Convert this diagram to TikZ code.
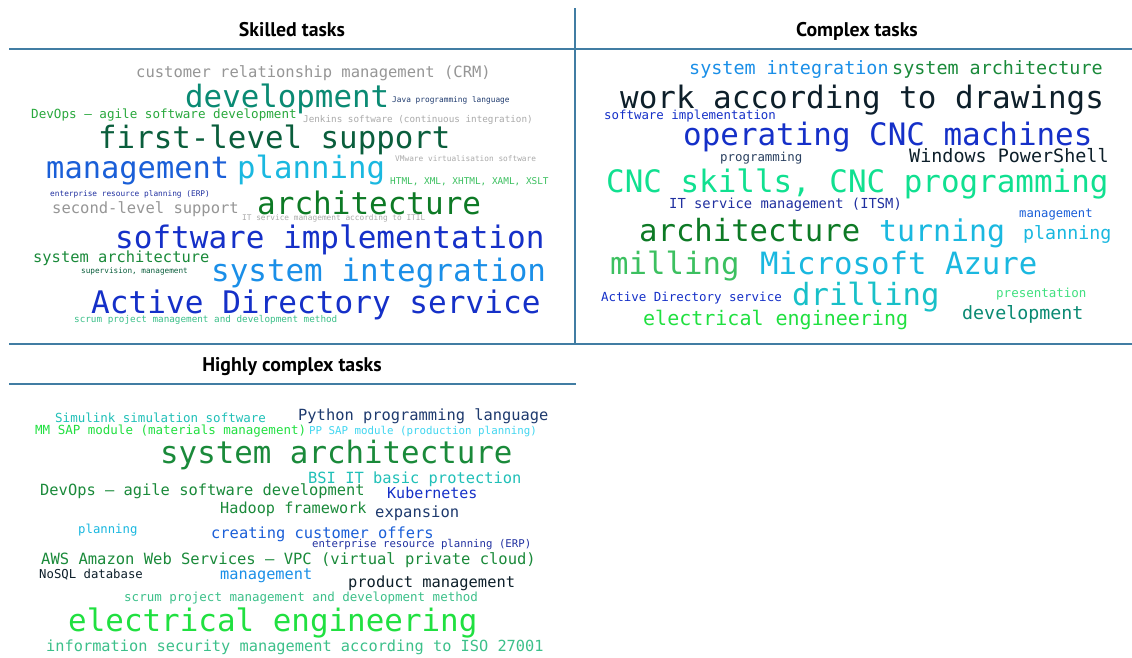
\documentclass[tikz,border=0pt]{standalone}
\usepackage{fontspec}
\newfontfamily\wcmono{DejaVu Sans Mono}
\newfontfamily\wctitle{PT Sans}
\newcommand\wcfont[1]{\wcmono\fontsize{#1}{#1}\selectfont}
\newcommand\wcword[6]{\node[wc, font=\wcfont{#4}, text=#5] (#1) at (#2pt,-#3pt) {#6};}
\definecolor{rule}{RGB}{65,125,163}
\definecolor{cgray}{RGB}{150,150,150}
\definecolor{cgrayl}{RGB}{170,170,170}
\definecolor{cteal}{RGB}{10,138,115}
\definecolor{cnavy}{RGB}{30,58,110}
\definecolor{cgreen}{RGB}{40,168,60}
\definecolor{cdkgreen}{RGB}{10,94,60}
\definecolor{cblue}{RGB}{26,95,216}
\definecolor{ccyan}{RGB}{26,184,224}
\definecolor{clgreen}{RGB}{60,192,96}
\definecolor{cdkblue}{RGB}{32,48,160}
\definecolor{carch}{RGB}{13,122,37}
\definecolor{croyal}{RGB}{21,48,200}
\definecolor{csysarch}{RGB}{26,138,58}
\definecolor{clblue}{RGB}{26,143,232}
\definecolor{cscrum}{RGB}{60,192,138}
\definecolor{cblack}{RGB}{13,31,42}
\definecolor{cmint}{RGB}{16,224,144}
\definecolor{cbgreen}{RGB}{32,224,64}
\definecolor{cslate}{RGB}{42,64,96}
\definecolor{ccyteal}{RGB}{32,192,184}
\definecolor{cpgreen}{RGB}{64,224,128}
\definecolor{cpcyan}{RGB}{64,214,240}
\definecolor{cdrill}{RGB}{24,192,200}
\begin{document}
\begin{tikzpicture}[x=1pt,y=1pt,
  wc/.style={anchor=base west, inner sep=0pt},
  title/.style={anchor=base, inner sep=0pt, font=\wctitle\bfseries\fontsize{19.8}{19.8}\selectfont},
  ruleline/.style={draw=rule, line width=2pt}]
\useasboundingbox[fill=white] (0,0) rectangle (1132,-657);
% rules
\coordinate (v1) at (575,-8);
\coordinate (v2) at (575,-344);
\coordinate (h1a) at (9,-49);
\coordinate (h1b) at (1132,-49);
\coordinate (h2a) at (9,-344);
\coordinate (h2b) at (1132,-344);
\coordinate (h3a) at (9,-384);
\coordinate (h3b) at (576,-384);
\draw[ruleline] (v1) -- (v2);
\draw[ruleline] (h1a) -- (h1b);
\draw[ruleline] (h2a) -- (h2b);
\draw[ruleline] (h3a) -- (h3b);
% titles
\node[title] (t1) at (292,-36) {Skilled tasks};
\node[title] (t2) at (857,-36) {Complex tasks};
\node[title] (t3) at (292,-371) {Highly complex tasks};
% Skilled tasks
\wcword{a1}{136}{77}{15.5}{cgray}{customer relationship management (CRM)}
\wcword{a2}{185}{107}{30.8}{cteal}{development}
\wcword{a3}{392}{102}{7.8}{cnavy}{Java programming language}
\wcword{a4}{31}{118}{12.6}{cgreen}{DevOps – agile software development}
\wcword{a5}{303}{122}{9.3}{cgrayl}{Jenkins software (continuous integration)}
\wcword{a6}{98}{148}{30.8}{cdkgreen}{first-level support}
\wcword{a7}{395}{161}{7.8}{cgrayl}{VMware virtualisation software}
\wcword{a8}{46}{178}{30.4}{cblue}{management}
\wcword{a9}{237}{178}{30.7}{ccyan}{planning}
\wcword{a10}{390}{184}{9.4}{clgreen}{HTML, XML, XHTML, XAML, XSLT}
\wcword{a11}{50}{196}{7.8}{cdkblue}{enterprise resource planning (ERP)}
\wcword{a12}{52}{213}{15.5}{cgray}{second-level support}
\wcword{a13}{257}{214}{31}{carch}{architecture}
\wcword{a14}{242}{220}{7.8}{cgrayl}{IT service management according to ITIL}
\wcword{a15}{115}{248}{31}{croyal}{software implementation}
\wcword{a16}{33}{262}{15.4}{csysarch}{system architecture}
\wcword{a17}{81}{273}{7.7}{cdkgreen}{supervision, management}
\wcword{a18}{211}{281}{30.9}{clblue}{system integration}
\wcword{a19}{91}{313}{31.1}{croyal}{Active Directory service}
\wcword{a20}{74}{322}{9.3}{cscrum}{scrum project management and development method}
% Complex tasks
\wcword{b1}{689}{74}{18.4}{clblue}{system integration}
\wcword{b2}{892}{74}{18.4}{csysarch}{system architecture}
\wcword{b3}{620}{108}{30.9}{cblack}{work according to drawings}
\wcword{b4}{604}{119}{12.4}{croyal}{software implementation}
\wcword{b5}{683}{145}{30.9}{croyal}{operating CNC machines}
\wcword{b6}{720}{161}{12.4}{cslate}{programming}
\wcword{b7}{909}{162}{18.4}{cblack}{Windows PowerShell}
\wcword{b8}{606}{192}{30.9}{cmint}{CNC skills, CNC programming}
\wcword{b9}{669}{208}{13.8}{cdkblue}{IT service management (ITSM)}
\wcword{b10}{1019}{217}{12.2}{cblue}{management}
\wcword{b11}{639}{241}{30.6}{carch}{architecture}
\wcword{b12}{879}{241}{29.9}{ccyan}{turning}
\wcword{b13}{1023}{239}{18.3}{ccyan}{planning}
\wcword{b14}{610}{274}{30.7}{clgreen}{milling}
\wcword{b15}{760}{274}{30.7}{ccyan}{Microsoft Azure}
\wcword{b16}{601}{301}{12.5}{croyal}{Active Directory service}
\wcword{b17}{792}{305}{30.6}{cdrill}{drilling}
\wcword{b18}{996}{297}{12.5}{cpgreen}{presentation}
\wcword{b19}{643}{325}{20}{cbgreen}{electrical engineering}
\wcword{b20}{962}{319}{18.3}{cteal}{development}
% Highly complex tasks
\wcword{c1}{55}{422}{12.5}{ccyteal}{Simulink simulation software}
\wcword{c2}{298}{420}{15.4}{cnavy}{Python programming language}
\wcword{c3}{35}{434}{12.5}{cbgreen}{MM SAP module (materials management)}
\wcword{c4}{309}{434}{10.8}{cpcyan}{PP SAP module (production planning)}
\wcword{c5}{160}{463}{30.8}{csysarch}{system architecture}
\wcword{c6}{308}{483}{15.4}{ccyteal}{BSI IT basic protection}
\wcword{c7}{40}{495}{15.4}{csysarch}{DevOps – agile software development}
\wcword{c8}{387}{498}{15}{croyal}{Kubernetes}
\wcword{c9}{220}{513}{15.2}{csysarch}{Hadoop framework}
\wcword{c10}{375}{517}{15.5}{cnavy}{expansion}
\wcword{c11}{78}{533}{12.3}{ccyan}{planning}
\wcword{c12}{211}{538}{15.4}{cblue}{creating customer offers}
\wcword{c13}{312}{547}{10.7}{cdkblue}{enterprise resource planning (ERP)}
\wcword{c14}{41}{564}{15.5}{csysarch}{AWS Amazon Web Services – VPC (virtual private cloud)}
\wcword{c15}{39}{578}{12.3}{cblack}{NoSQL database}
\wcword{c16}{220}{579}{15.3}{clblue}{management}
\wcword{c17}{348}{587}{15.4}{cblack}{product management}
\wcword{c18}{124}{601}{12.5}{cscrum}{scrum project management and development method}
\wcword{c19}{68}{631}{30.9}{cbgreen}{electrical engineering}
\wcword{c20}{46}{651}{15.3}{cscrum}{information security management according to ISO 27001}
\end{tikzpicture}
\end{document}
